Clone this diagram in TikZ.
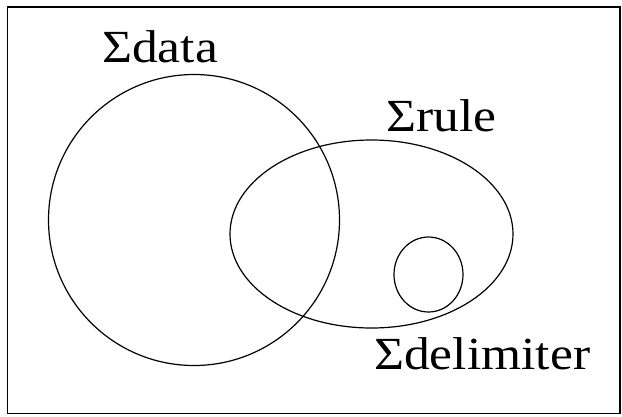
\documentclass[tikz,border=0pt]{standalone}
\usepackage{fontspec}
\setmainfont[FakeStretch=1.12]{Liberation Serif}
\usetikzlibrary{shapes.geometric}

\begin{document}
\begin{tikzpicture}[x=1pt, y=-1pt,
  set/.style={draw=black, line width=1.2pt, inner sep=0, outer sep=0},
  lab/.style={font=\fontsize{46}{46}\selectfont, inner sep=0, anchor=base west}]
\useasboundingbox (0,0) rectangle (622,416);
\draw[line width=1.4pt] (7.5,7) rectangle (620,413.5);
% the three sets
\node[set, circle, minimum size=291pt] (data) at (194,220) {};
\node[set, ellipse, minimum width=283pt, minimum height=188pt] (rule) at (371.5,234) {};
\node[set, ellipse, minimum width=69pt, minimum height=75pt] (delim) at (428.5,274.5) {};
% labels
\node[lab] (datalab) at (102,62) {Σdata};
\node[lab] (rulelab) at (386,131) {Σrule};
\node[lab] (delimlab) at (374,369) {Σdelimiter};
\end{tikzpicture}
\end{document}
